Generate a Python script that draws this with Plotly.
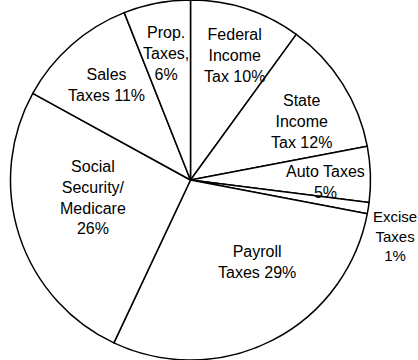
import math
import plotly.graph_objects as go

categories = ["Federal Income Tax", "State Income Tax", "Auto Taxes", "Excise Taxes",
              "Payroll Taxes", "Social Security/Medicare", "Sales Taxes", "Prop. Taxes"]
values = [10, 12, 5, 1, 29, 26, 11, 6]
label_texts = ["Federal<br>Income<br>Tax 10%", "State<br>Income<br>Tax 12%", "Auto Taxes<br>5%",
               "Excise<br>Taxes<br>1%", "Payroll<br>Taxes 29%", "Social<br>Security/<br>Medicare<br>26%",
               "Sales<br>Taxes 11%", "Prop.<br>Taxes,<br>6%"]

# label placement style (radial fraction, angular offset in degrees)
label_r = [0.736, 0.698, 0.75, 1.18, 0.587, 0.551, 0.703, 0.713]
label_dang = [1.4, 4.4, 2.8, 6.3, -12.0, 7.6, -0.2, 0.0]
label_size = [16, 16, 16, 15, 16, 16, 16, 16]

W, H = 418, 360
cx, cy, R = 190.5, 180.0, 180.0

fig = go.Figure(go.Pie(
    labels=categories, values=values, sort=False, direction="clockwise", rotation=0,
    textinfo="none", hoverinfo="label+percent",
    marker=dict(colors=["white"] * len(values), line=dict(color="black", width=1.5)),
    domain=dict(x=[(cx - R) / W, (cx + R) / W], y=[0, 1]),
    showlegend=False,
))

total = sum(values)
cum = 0
annotations = []
for v, t, fr, da, fs in zip(values, label_texts, label_r, label_dang, label_size):
    mid = (cum + v / 2) / total * 360 + da
    cum += v
    px = cx + R * fr * math.sin(math.radians(mid))
    py = cy - R * fr * math.cos(math.radians(mid))
    annotations.append(dict(x=px / W, y=1 - py / H, xref="paper", yref="paper",
                            text=t, showarrow=False, xanchor="center", yanchor="middle",
                            align="center",
                            font=dict(family="Liberation Sans, Arial", size=fs, color="black")))

fig.update_layout(width=W, height=H, margin=dict(l=0, r=0, t=0, b=0),
                  paper_bgcolor="white", plot_bgcolor="white", annotations=annotations)
fig.write_html("out.html")
